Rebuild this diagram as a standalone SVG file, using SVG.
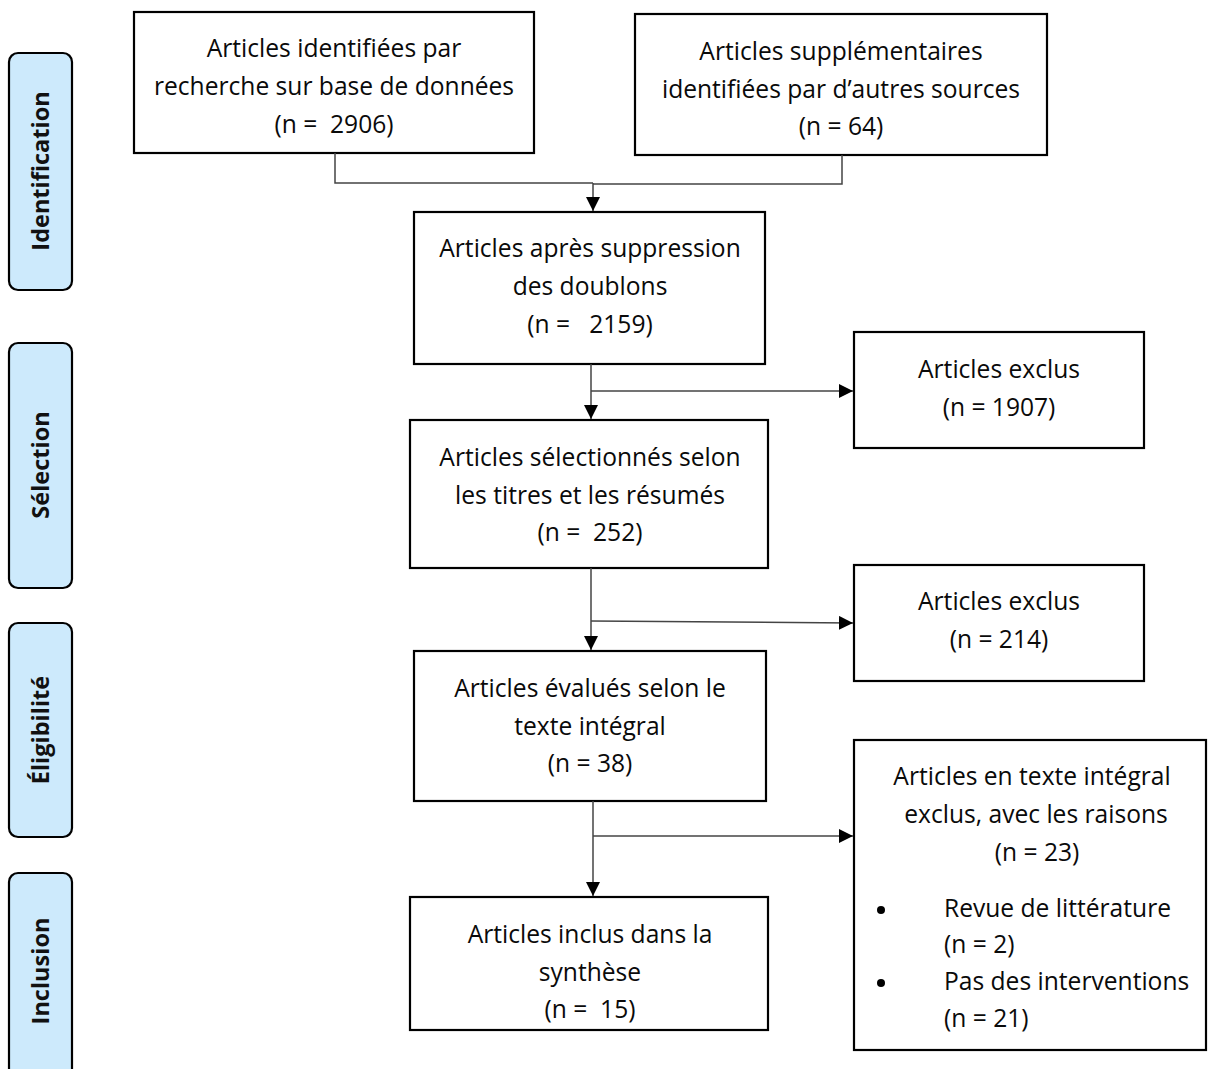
<svg xmlns="http://www.w3.org/2000/svg" width="1208" height="1069" viewBox="0 0 1208 1069">
<defs>
<style>
.box{fill:#fff;stroke:#000;stroke-width:2.2}
.phase{fill:#cdeafc;stroke:#000;stroke-width:2.2}
.t{font-family:"Open Sans","Liberation Sans",sans-serif;font-size:24.6px;fill:#0a0a0a;text-anchor:middle}
.tl{font-family:"Open Sans","Liberation Sans",sans-serif;font-size:24.6px;fill:#0a0a0a}
.p{font-family:"Open Sans","Liberation Sans",sans-serif;font-size:23.5px;font-weight:bold;fill:#111;text-anchor:middle}
.c{fill:none;stroke:#444;stroke-width:1.5}
</style>
<marker id="ah" viewBox="0 0 14 14" refX="14" refY="7" markerWidth="14" markerHeight="14" markerUnits="userSpaceOnUse" orient="auto">
<path d="M0,0 L14,7 L0,14 Z" fill="#000"/>
</marker>
</defs>
<rect width="1208" height="1069" fill="#fff"/>

<g id="phase-identification"><rect class="phase" x="9" y="53" width="63" height="237" rx="9"/><text class="p" transform="translate(49,171) rotate(-90)">Identification</text></g>
<g id="phase-selection"><rect class="phase" x="9" y="343" width="63" height="245" rx="9"/><text class="p" transform="translate(49,465) rotate(-90)">Sélection</text></g>
<g id="phase-eligibilite"><rect class="phase" x="9" y="623" width="63" height="214" rx="9"/><text class="p" transform="translate(49,730) rotate(-90)">Éligibilité</text></g>
<g id="phase-inclusion"><rect class="phase" x="9" y="873" width="63" height="210" rx="9"/><text class="p" transform="translate(49,971) rotate(-90)">Inclusion</text></g>

<g id="n1"><rect class="box" x="134" y="12" width="400" height="141"/>
<text class="t" x="334" y="57">Articles identifiées par</text>
<text class="t" x="334" y="95">recherche sur base de données</text>
<text class="t" x="334" y="133" xml:space="preserve">(n =  2906)</text></g>

<g id="n2"><rect class="box" x="635" y="14" width="412" height="141"/>
<text class="t" x="841" y="60">Articles supplémentaires</text>
<text class="t" x="841" y="98">identifiées par d’autres sources</text>
<text class="t" x="841" y="135">(n = 64)</text></g>

<g id="n3"><rect class="box" x="414" y="212" width="351" height="152"/>
<text class="t" x="590" y="257">Articles après suppression</text>
<text class="t" x="590" y="295">des doublons</text>
<text class="t" x="590" y="333" xml:space="preserve">(n =   2159)</text></g>

<g id="n4"><rect class="box" x="854" y="332" width="290" height="116"/>
<text class="t" x="999" y="378">Articles exclus</text>
<text class="t" x="999" y="416">(n = 1907)</text></g>

<g id="n5"><rect class="box" x="410" y="420" width="358" height="148"/>
<text class="t" x="590" y="466">Articles sélectionnés selon</text>
<text class="t" x="590" y="504">les titres et les résumés</text>
<text class="t" x="590" y="541" xml:space="preserve">(n =  252)</text></g>

<g id="n6"><rect class="box" x="854" y="565" width="290" height="116"/>
<text class="t" x="999" y="610">Articles exclus</text>
<text class="t" x="999" y="648">(n = 214)</text></g>

<g id="n7"><rect class="box" x="414" y="651" width="352" height="150"/>
<text class="t" x="590" y="697">Articles évalués selon le</text>
<text class="t" x="590" y="735">texte intégral</text>
<text class="t" x="590" y="772">(n = 38)</text></g>

<g id="n8"><rect class="box" x="854" y="740" width="352" height="310"/>
<text class="t" x="1032" y="785">Articles en texte intégral</text>
<text class="t" x="1036" y="823">exclus, avec les raisons</text>
<text class="t" x="1037" y="861">(n = 23)</text>
<circle cx="881" cy="910" r="4" fill="#000"/>
<text class="tl" x="944" y="917">Revue de littérature</text>
<text class="tl" x="944" y="953">(n = 2)</text>
<circle cx="881" cy="983" r="4" fill="#000"/>
<text class="tl" x="944" y="990">Pas des interventions</text>
<text class="tl" x="944" y="1027">(n = 21)</text></g>

<g id="n9"><rect class="box" x="410" y="897" width="358" height="133"/>
<text class="t" x="590" y="943">Articles inclus dans la</text>
<text class="t" x="590" y="981">synthèse</text>
<text class="t" x="590" y="1018" xml:space="preserve">(n =  15)</text></g>

<g id="connectors">
<path class="c" d="M335,153 V183 H593 M842,155 V184 H593"/>
<path class="c" d="M593,183 V211" marker-end="url(#ah)"/>
<path class="c" d="M591,364 V419" marker-end="url(#ah)"/>
<path class="c" d="M591,391 H853" marker-end="url(#ah)"/>
<path class="c" d="M591,568 V650" marker-end="url(#ah)"/>
<path class="c" d="M591,621 L853,623" marker-end="url(#ah)"/>
<path class="c" d="M593,801 V896" marker-end="url(#ah)"/>
<path class="c" d="M593,836 H853" marker-end="url(#ah)"/>
</g>
</svg>
